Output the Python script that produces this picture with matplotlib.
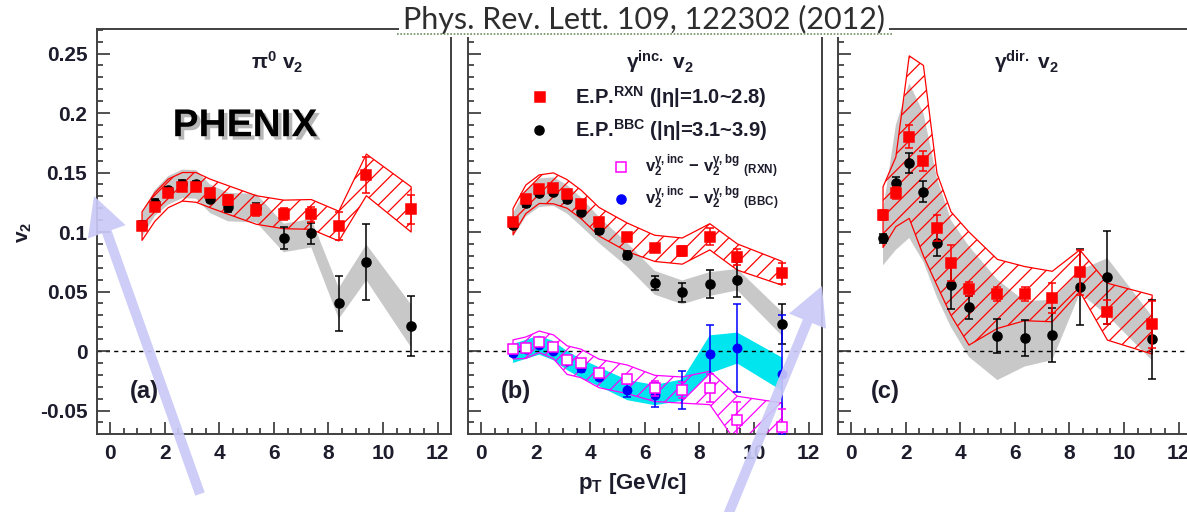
import numpy as np
import matplotlib
matplotlib.use("Agg")
import matplotlib.pyplot as plt
import matplotlib.patheffects as pe
from matplotlib.patches import FancyArrow
from matplotlib.lines import Line2D
from matplotlib.transforms import IdentityTransform
from matplotlib.ticker import MultipleLocator, FuncFormatter

plt.rcParams['font.family'] = ['Liberation Sans', 'DejaVu Sans']
plt.rcParams['font.weight'] = 'bold'
plt.rcParams['mathtext.fontset'] = 'custom'
plt.rcParams['mathtext.rm'] = 'Liberation Sans:bold'
plt.rcParams['mathtext.bf'] = 'Liberation Sans:bold'
plt.rcParams['mathtext.it'] = 'Liberation Sans:italic:bold'
plt.rcParams['hatch.linewidth'] = 0.9

# pT bin centres (GeV/c)
pt = [1.17, 1.64, 2.13, 2.65, 3.15, 3.66, 4.32, 5.36, 6.36, 7.37, 8.38, 9.39, 11.03]

# (a) pi0 v2
a_rxn = [0.105, 0.121, 0.1325, 0.138, 0.1375, 0.1325, 0.127, 0.1185, 0.1148, 0.1148, 0.105, 0.148, 0.119]
a_rxn_err = [0.003, 0.003, 0.003, 0.003, 0.003, 0.003, 0.004, 0.005, 0.005, 0.006, 0.012, 0.015, 0.0125]
a_rxn_sys = [0.012, 0.012, 0.012, 0.012, 0.0125, 0.012, 0.012, 0.012, 0.012, 0.0125, 0.0125, 0.0175, 0.019]
a_bbc = [0.106, 0.1245, 0.135, 0.1405, 0.14, 0.128, 0.121, 0.120, 0.095, 0.099, 0.040, 0.0745, 0.021]
a_bbc_err = [0.003, 0.003, 0.003, 0.003, 0.003, 0.003, 0.004, 0.004, 0.009, 0.009, 0.023, 0.032, 0.0255]
a_bbc_sys = [0.010, 0.011, 0.012, 0.012, 0.012, 0.012, 0.012, 0.012, 0.012, 0.012, 0.013, 0.015, 0.018]

# (b) inclusive photon v2
b_rxn = [0.1087, 0.1275, 0.136, 0.1367, 0.132, 0.1233, 0.1087, 0.0955, 0.0863, 0.084, 0.096, 0.079, 0.0653]
b_rxn_err = [0.003, 0.003, 0.003, 0.003, 0.003, 0.003, 0.003, 0.003, 0.003, 0.004, 0.007, 0.007, 0.009]
b_rxn_sys = [0.011, 0.012, 0.012, 0.013, 0.012, 0.012, 0.012, 0.012, 0.011, 0.011, 0.011, 0.011, 0.010]
b_bbc = [0.106, 0.124, 0.133, 0.134, 0.1275, 0.117, 0.1017, 0.0807, 0.0574, 0.0493, 0.0563, 0.060, 0.0227]
b_bbc_err = [0.003, 0.003, 0.003, 0.003, 0.003, 0.003, 0.003, 0.003, 0.006, 0.008, 0.0116, 0.0145, 0.017]
b_bbc_sys = [0.010, 0.011, 0.012, 0.012, 0.012, 0.012, 0.011, 0.010, 0.010, 0.010, 0.010, 0.009, 0.010]
b_sub_rxn = [0.0014, 0.0028, 0.0078, 0.0036, -0.0076, -0.0104, -0.0188, -0.0238, -0.0314, -0.0328, -0.031, -0.058, -0.0636]
b_sub_rxn_err = [0.002, 0.002, 0.002, 0.002, 0.002, 0.002, 0.003, 0.004, 0.006, 0.007, 0.012, 0.015, 0.015]
b_sub_rxn_sys = [0.008, 0.009, 0.009, 0.010, 0.012, 0.012, 0.012, 0.012, 0.011, 0.011, 0.014, 0.020, 0.020]
b_sub_bbc = [-0.002, 0.0014, 0.005, 0.0003, -0.008, -0.0146, -0.0216, -0.0328, -0.037, -0.0328, -0.0028, 0.0025, -0.0195]
b_sub_bbc_err = [0.002, 0.002, 0.002, 0.002, 0.003, 0.003, 0.003, 0.006, 0.010, 0.016, 0.025, 0.037, 0.050]
b_sub_bbc_sys = [0.008, 0.008, 0.008, 0.008, 0.008, 0.008, 0.008, 0.0085, 0.0085, 0.009, 0.016, 0.013, 0.014]

# (c) direct photon v2 (asymmetric systematic bands)
c_rxn = [0.1143, 0.133, 0.180, 0.1597, 0.1036, 0.0742, 0.0521, 0.0479, 0.0479, 0.0448, 0.066, 0.0325, 0.0224]
c_rxn_err = [0.004, 0.005, 0.0098, 0.008, 0.011, 0.015, 0.006, 0.0055, 0.0055, 0.0125, 0.019, 0.010, 0.020]
c_rxn_lo = [0.087, 0.1045, 0.1115, 0.080, 0.055, 0.030, 0.005, 0.019, 0.0255, 0.0246, 0.050, 0.0092, -0.0025]
c_rxn_hi = [0.138, 0.163, 0.248, 0.240, 0.149, 0.117, 0.100, 0.077, 0.071, 0.067, 0.085, 0.057, 0.047]
c_bbc = [0.0947, 0.1414, 0.158, 0.134, 0.0905, 0.0555, 0.0367, 0.0126, 0.0112, 0.0134, 0.0535, 0.062, 0.0098]
c_bbc_err = [0.004, 0.005, 0.008, 0.0085, 0.011, 0.020, 0.0095, 0.014, 0.015, 0.023, 0.032, 0.039, 0.033]
c_bbc_lo = [0.072, 0.085, 0.095, 0.075, 0.045, 0.020, -0.005, -0.0244, -0.013, -0.0076, 0.0485, 0.030, -0.008]
c_bbc_hi = [0.118, 0.190, 0.225, 0.200, 0.145, 0.110, 0.088, 0.060, 0.042, 0.043, 0.068, 0.078, 0.029]

titles = [r'$\mathrm{\pi}^{0}\ \mathbf{v_{2}}$', r'$\mathrm{\gamma}^{\mathbf{inc.}}\ \mathbf{v_{2}}$',
          r'$\mathrm{\gamma}^{\mathbf{dir.}}\ \mathbf{v_{2}}$']
tags = ['(a)', '(b)', '(c)']

W, H = 1187, 512
fig = plt.figure(figsize=(W / 100, H / 100), dpi=100)
ax_w, ax_h, ax_b = 354 / W, 405 / H, 1 - 434 / H
lefts = [97 / W, 468 / W, 838 / W]
axes = [fig.add_axes([l, ax_b, ax_w, ax_h]) for l in lefts]

RED, GRAY, MAG, CYAN = '#ff0000', '#c8c8c8', '#ff00ff', '#00e5ee'
TXT = '#1c1c2c'


def band(ax, x, lo, hi, color, hatch=None, z=1):
    if hatch:
        ax.fill_between(x, lo, hi, facecolor='none', edgecolor=color,
                        hatch=hatch, linewidth=0.9, zorder=z)
    else:
        ax.fill_between(x, lo, hi, facecolor=color, edgecolor='none', zorder=z)


def points(ax, x, y, e, color, marker, ms, open_=False, z=4):
    ax.errorbar(x, y, yerr=e, fmt=marker, color=color, ms=ms,
                mfc='white' if open_ else color, mec=color, mew=1.1,
                elinewidth=1.1, capsize=3, capthick=1.1, zorder=z)


x = np.array(pt)

# panel (a)
ax = axes[0]
band(ax, x, np.subtract(a_bbc, a_bbc_sys), np.add(a_bbc, a_bbc_sys), GRAY)
band(ax, x, np.subtract(a_rxn, a_rxn_sys), np.add(a_rxn, a_rxn_sys), RED, '//', 2)
points(ax, x, a_bbc, a_bbc_err, 'black', 'o', 6.5)
points(ax, x, a_rxn, a_rxn_err, RED, 's', 7, z=5)
ax.text(0.418, 0.76, 'PHENIX', transform=ax.transAxes, ha='center', va='center',
        fontsize=28, fontweight='bold', color='black',
        path_effects=[pe.SimplePatchShadow(offset=(2.5, -2.5), shadow_rgbFace='#888888', alpha=0.6),
                      pe.Normal()])

# panel (b)
ax = axes[1]
band(ax, x, np.subtract(b_bbc, b_bbc_sys), np.add(b_bbc, b_bbc_sys), GRAY)
band(ax, x, np.subtract(b_sub_bbc, b_sub_bbc_sys), np.add(b_sub_bbc, b_sub_bbc_sys), CYAN)
band(ax, x, np.subtract(b_rxn, b_rxn_sys), np.add(b_rxn, b_rxn_sys), RED, '//', 2)
band(ax, x, np.subtract(b_sub_rxn, b_sub_rxn_sys), np.add(b_sub_rxn, b_sub_rxn_sys), MAG, '//', 2)
points(ax, x, b_bbc, b_bbc_err, 'black', 'o', 6.5)
points(ax, x, b_rxn, b_rxn_err, RED, 's', 7, z=5)
points(ax, x, b_sub_bbc, b_sub_bbc_err, '#0000ff', 'o', 6)
points(ax, x, b_sub_rxn, b_sub_rxn_err, MAG, 's', 7, open_=True, z=5)

# legend built by hand inside panel (b)
leg = [
    (0.203, 0.833, 's', RED, False, 0.302, r'E.P.$^{\mathbf{RXN}}$ (|η|=1.0~2.8)', 14.5),
    (0.200, 0.751, 'o', 'black', False, 0.302, r'E.P.$^{\mathbf{BBC}}$ (|η|=3.1~3.9)', 14.5),
    (0.432, 0.660, 's', MAG, True, 0.50,
     r'$\mathbf{v}_\mathbf{2}^{\mathrm{\gamma},\mathbf{inc}}\ \mathbf{-}\ \mathbf{v}_\mathbf{2}^{\mathrm{\gamma},\mathbf{bg}}\ {}_{\mathbf{(RXN)}}$', 12),
    (0.432, 0.580, 'o', '#0000ff', False, 0.50,
     r'$\mathbf{v}_\mathbf{2}^{\mathrm{\gamma},\mathbf{inc}}\ \mathbf{-}\ \mathbf{v}_\mathbf{2}^{\mathrm{\gamma},\mathbf{bg}}\ {}_{\mathbf{(BBC)}}$', 12),
]
for mx, my, mk, col, op, tx, label, fs in leg:
    ax.plot([mx], [my], mk, transform=ax.transAxes, color=col, ms=6.5,
            mfc='white' if op else col, mec=col, mew=1.1, zorder=6)
    ax.text(tx, my, label, transform=ax.transAxes, ha='left', va='center',
            fontsize=fs, fontweight='bold', color=TXT)

# panel (c)
ax = axes[2]
band(ax, x, c_bbc_lo, c_bbc_hi, GRAY)
band(ax, x, c_rxn_lo, c_rxn_hi, RED, '//', 2)
points(ax, x, c_bbc, c_bbc_err, 'black', 'o', 6.5)
points(ax, x, c_rxn, c_rxn_err, RED, 's', 7, z=5)

title_x = [0.508, 0.542, 0.534]
for i, ax in enumerate(axes):
    ax.set_xlim(-0.48, 12.49)
    ax.set_ylim(-0.0697, 0.2706)
    ax.axhline(0, color='black', lw=1.0, ls=(0, (3, 3)), zorder=1.5)
    ax.xaxis.set_major_locator(MultipleLocator(2))
    ax.xaxis.set_minor_locator(MultipleLocator(0.5))
    ax.yaxis.set_major_locator(MultipleLocator(0.05))
    ax.yaxis.set_minor_locator(MultipleLocator(0.01))
    ax.yaxis.set_major_formatter(FuncFormatter(lambda v, p: '%g' % round(v, 3)))
    ax.tick_params(which='both', direction='in', top=False, right=False,
                   colors='#333333', labelcolor=TXT, labelsize=15, width=1.2)
    ax.tick_params(which='major', length=9, pad=7)
    ax.tick_params(which='minor', length=4.5)
    if i > 0:
        ax.tick_params(axis='y', labelleft=False)
    for s in ax.spines.values():
        s.set_color('#404040')
        s.set_linewidth(1.4)
    for lab in ax.get_xticklabels() + ax.get_yticklabels():
        lab.set_fontweight('bold')
    ax.text(title_x[i], 0.918, titles[i], transform=ax.transAxes, ha='center',
            va='center', fontsize=15, color=TXT)
    ax.text(0.135, 0.106, tags[i], transform=ax.transAxes, ha='center',
            va='center', fontsize=17, fontweight='bold', color=TXT)

fig.text(25 / W, 1 - 232 / H, r'$\mathbf{v_2}$', rotation=90, ha='center',
         va='center', fontsize=15, color=TXT)
fig.text(632 / W, 1 - 483 / H, r'$\mathbf{p_T}$ [GeV/c]', ha='center',
         va='center', fontsize=16, fontweight='bold', color=TXT)

# journal reference banner over the top frame
fig.text(644 / W, 1 - 19 / H, 'Phys. Rev. Lett. 109, 122302 (2012)', ha='center',
         va='center', fontsize=22, fontweight='normal', family=['Lato', 'DejaVu Sans'],
         color='#2e2e2e', zorder=8,
         bbox=dict(facecolor='white', edgecolor='none', boxstyle='square,pad=0.12'))
fig.add_artist(Line2D([397 / W, 893 / W], [1 - 34 / H] * 2, transform=fig.transFigure,
                      color='#6e8f5e', lw=1.2, ls=(0, (1, 1)), zorder=9))

# pointer arrows
for (x0, y0, x1, y1) in [(200, 494, 94, 196), (728, 515, 822, 286)]:
    arr = FancyArrow(x0, H - y0, x1 - x0, y0 - y1, width=10, head_width=40,
                     head_length=38, length_includes_head=True,
                     transform=IdentityTransform(), color='#c9c9f7', alpha=0.92,
                     lw=0, zorder=20)
    fig.add_artist(arr)

fig.savefig('out.png', dpi=100)
